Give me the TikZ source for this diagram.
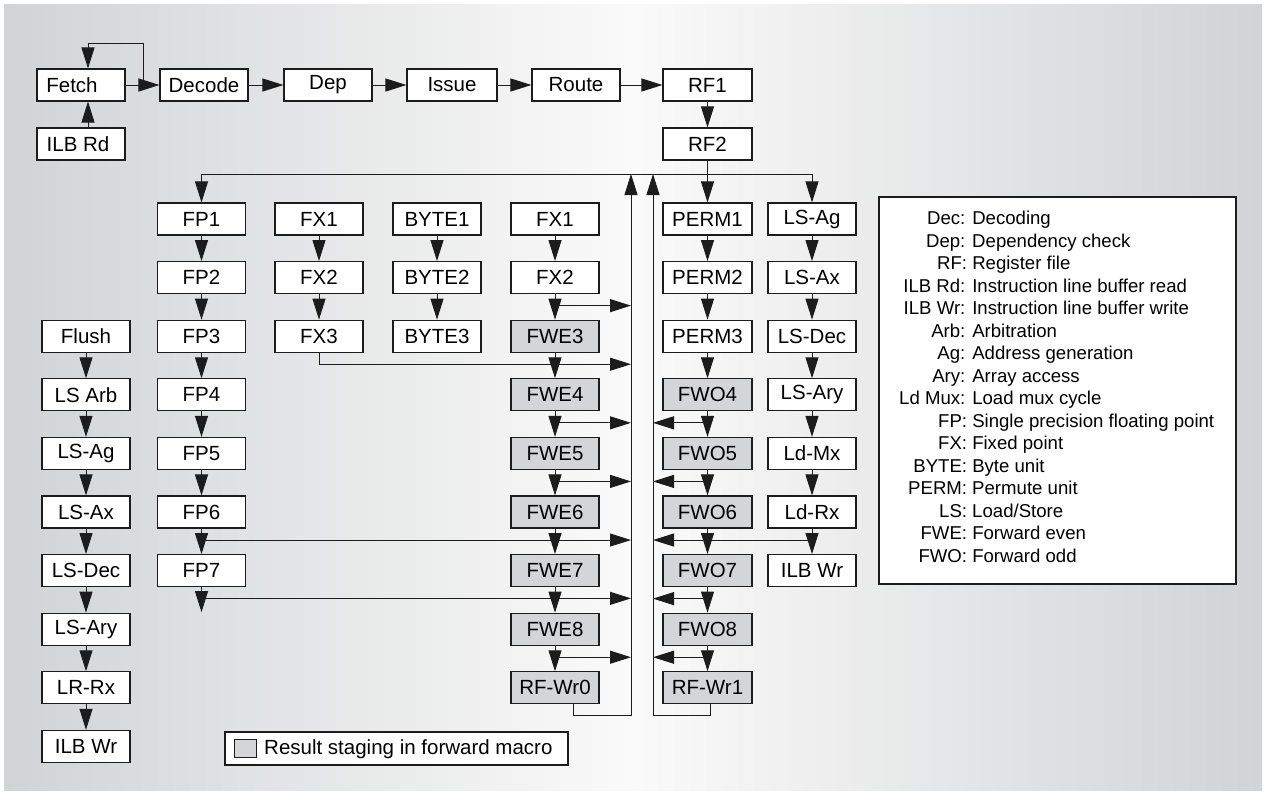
\documentclass[tikz,border=0pt]{standalone}
\usepackage{fontspec}
\setmainfont{Liberation Sans}
\usetikzlibrary{arrows.meta,calc}
\definecolor{bgside}{RGB}{210,211,213}
\definecolor{bgmid}{RGB}{250,250,250}
\definecolor{stagefill}{RGB}{212,213,215}
\definecolor{ink}{RGB}{28,28,28}
\newcommand{\boxfont}{\fontsize{20.5}{24}\selectfont}
\newcommand{\legfont}{\fontsize{18.6}{22.5}\selectfont}
\begin{document}
\begin{tikzpicture}[x=1pt,y=-1pt,
  pbox/.style={draw=ink, line width=1.1pt, fill=white, minimum width=88pt,
    minimum height=32pt, inner sep=0pt, font=\boxfont},
  gbox/.style={pbox, fill=stagefill},
  arr/.style={draw=ink, line width=1pt, -{Triangle[length=21pt,width=13pt]}},
  wire/.style={draw=ink, line width=1pt},
  frame/.style={draw=ink, line width=1.1pt, fill=white},
]
\useasboundingbox (0,0) rectangle (1264,801);
\shade[left color=bgside, right color=bgside, middle color=bgmid] (4,4) rectangle (1262,790);

% top pipeline
\node[pbox] (Fetch)  at (81,85)    {\hspace*{-18pt}Fetch};
\node[pbox] (Decode) at (204,85)   {Decode};
\node[pbox] (Dep)    at (328,85)   {Dep};
\node[pbox, minimum width=90pt] (Issue)  at (452,85)   {Issue};
\node[pbox] (Route)  at (576,85)   {Route};
\node[pbox, minimum width=89pt] (RF1)    at (707.5,85) {RF1};
\node[pbox, minimum width=89pt] (RF2)    at (707.5,144) {RF2};
\node[pbox] (ILBRd)  at (81,144)   {\hspace*{-6pt}ILB Rd};

% left LS column
\node[pbox] (Flush)  at (86,336.2) {Flush};
\node[pbox] (LSArb)  at (86,394.8) {LS Arb};
\node[pbox] (LSAgL)  at (86,453.4) {LS-Ag};
\node[pbox] (LSAxL)  at (86,512)   {LS-Ax};
\node[pbox] (LSDecL) at (86,570.6) {LS-Dec};
\node[pbox] (LSAryL) at (86,629.2) {LS-Ary};
\node[pbox] (LRRx)   at (86,687.8) {LR-Rx};
\node[pbox] (ILBWrL) at (86,746.4) {ILB Wr};

% FP column
\node[pbox] (FP1) at (201.5,219)   {FP1};
\node[pbox] (FP2) at (201.5,277.6) {FP2};
\node[pbox] (FP3) at (201.5,336.2) {FP3};
\node[pbox] (FP4) at (201.5,394.8) {FP4};
\node[pbox] (FP5) at (201.5,453.4) {FP5};
\node[pbox] (FP6) at (201.5,512)   {FP6};
\node[pbox] (FP7) at (201.5,570.6) {FP7};

% FX column
\node[pbox] (FXa1) at (319,219)   {FX1};
\node[pbox] (FXa2) at (319,277.6) {FX2};
\node[pbox] (FXa3) at (319,336.2) {FX3};

% BYTE column
\node[pbox] (BY1) at (437,219)   {BYTE1};
\node[pbox] (BY2) at (437,277.6) {BYTE2};
\node[pbox] (BY3) at (437,336.2) {BYTE3};

% FX / FWE column
\node[pbox] (FXb1) at (555,219)   {FX1};
\node[pbox] (FXb2) at (555,277.6) {FX2};
\node[gbox] (FWE3) at (555,336.2) {FWE3};
\node[gbox] (FWE4) at (555,394.8) {FWE4};
\node[gbox] (FWE5) at (555,453.4) {FWE5};
\node[gbox] (FWE6) at (555,512)   {FWE6};
\node[gbox] (FWE7) at (555,570.6) {FWE7};
\node[gbox] (FWE8) at (555,629.2) {FWE8};
\node[gbox] (RFWr0) at (555,687.8) {RF-Wr0};

% PERM / FWO column
\node[pbox, minimum width=89pt] (PERM1) at (707.5,219)   {PERM1};
\node[pbox, minimum width=89pt] (PERM2) at (707.5,277.6) {PERM2};
\node[pbox, minimum width=89pt] (PERM3) at (707.5,336.2) {PERM3};
\node[gbox, minimum width=89pt] (FWO4)  at (707.5,394.8) {FWO4};
\node[gbox, minimum width=89pt] (FWO5)  at (707.5,453.4) {FWO5};
\node[gbox, minimum width=89pt] (FWO6)  at (707.5,512)   {FWO6};
\node[gbox, minimum width=89pt] (FWO7)  at (707.5,570.6) {FWO7};
\node[gbox, minimum width=89pt] (FWO8)  at (707.5,629.2) {FWO8};
\node[gbox, minimum width=89pt] (RFWr1) at (707.5,687.8) {RF-Wr1};

% right LS column
\node[pbox] (LSAg)  at (812,219)   {LS-Ag};
\node[pbox] (LSAx)  at (812,277.6) {LS-Ax};
\node[pbox] (LSDec) at (812,336.2) {LS-Dec};
\node[pbox] (LSAry) at (812,394.8) {LS-Ary};
\node[pbox] (LdMx)  at (812,453.4) {Ld-Mx};
\node[pbox] (LdRx)  at (812,512)   {Ld-Rx};
\node[pbox] (ILBWr) at (812,570.6) {ILB Wr};

% top pipeline connectors
\coordinate (loopA) at (143,85);
\coordinate (loopB) at (88,43);
\draw[arr] (Fetch) -- (Decode);
\draw[arr] (loopA) |- (loopB) -- ([xshift=7pt]Fetch.north);
\draw[arr] ([xshift=7pt]ILBRd.north) -- ([xshift=7pt]Fetch.south);
\draw[arr] (Decode) -- (Dep);
\draw[arr] (Dep) -- (Issue);
\draw[arr] (Issue) -- (Route);
\draw[arr] (Route) -- (RF1);
\draw[arr] (RF1) -- (RF2);

% fork
\coordinate (fork) at (707.5,174);
\coordinate (busLtop) at (631,174);
\coordinate (busRtop) at (653,174);
\draw[arr] (RF2) -- (PERM1);
\draw[arr] (fork) -| (FP1.north);
\draw[arr] (fork) -| (LSAg.north);

% column chains
\foreach \a/\b in {Flush/LSArb, LSArb/LSAgL, LSAgL/LSAxL, LSAxL/LSDecL, LSDecL/LSAryL,
  LSAryL/LRRx, LRRx/ILBWrL, FP1/FP2, FP2/FP3, FP3/FP4, FP4/FP5, FP5/FP6, FP6/FP7,
  FXa1/FXa2, FXa2/FXa3, BY1/BY2, BY2/BY3, FXb1/FXb2, FXb2/FWE3, FWE3/FWE4, FWE4/FWE5,
  FWE5/FWE6, FWE6/FWE7, FWE7/FWE8, FWE8/RFWr0, PERM1/PERM2, PERM2/PERM3, PERM3/FWO4,
  FWO4/FWO5, FWO5/FWO6, FWO6/FWO7, FWO7/FWO8, FWO8/RFWr1, LSAg/LSAx, LSAx/LSDec,
  LSDec/LSAry, LSAry/LdMx, LdMx/LdRx, LdRx/ILBWr}
  \draw[arr] (\a) -- (\b);
\coordinate (fp7end) at ($(FP7.south)+(0,25)$);
\draw[arr] (FP7.south) -- (fp7end);

% feeds into the even bus
\foreach \a/\b in {FXb2/FWE3, FWE4/FWE5, FWE5/FWE6, FWE8/RFWr0, FP6/FP7}
  \draw[arr] let \p1=($(\a.south)!.45!(\b.north)$), \p2=(busLtop) in (\p1) -- (\x2,\y1);
\draw[arr] let \p1=($(FWE3.south)!.45!(FWE4.north)$), \p2=(busLtop) in
  (FXa3.south) |- (\x2,\y1);
\draw[arr] let \p1=($(FP7.south)+(0,11.2)$), \p2=(busLtop) in (\p1) -- (\x2,\y1);

% feeds into the odd bus
\foreach \a/\b in {FWO4/FWO5, FWO5/FWO6, FWO7/FWO8, FWO8/RFWr1, LdRx/ILBWr}
  \draw[arr] let \p1=($(\a.south)!.45!(\b.north)$), \p2=(busRtop) in (\p1) -- (\x2,\y1);

% buses back to the fork
\draw[arr] ([xshift=18pt]RFWr0.south) -- ++(0,11) -| (busLtop);
\draw[arr] ([xshift=3pt]RFWr1.south) -- ++(0,11) -| (busRtop);

% legend
\node[frame, minimum width=357pt, minimum height=387pt, inner sep=0pt] (legbox) at (1057.5,390.5) {};
\node[anchor=north west, inner sep=0pt, font=\legfont] (legtext) at (899,209) {%
\begin{tabular}{@{}r@{: }l@{}}
Dec & Decoding\\
Dep & Dependency check\\
RF & Register file\\
ILB Rd & Instruction line buffer read\\
ILB Wr & Instruction line buffer write\\
Arb & Arbitration\\
Ag & Address generation\\
Ary & Array access\\
Ld Mux & Load mux cycle\\
FP & Single precision floating point\\
FX & Fixed point\\
BYTE & Byte unit\\
PERM & Permute unit\\
LS & Load/Store\\
FWE & Forward even\\
FWO & Forward odd
\end{tabular}};

% staging key
\node[frame, minimum width=343pt, minimum height=33pt, inner sep=0pt] (keybox) at (396.5,748.5) {};
\node[draw=ink, line width=1pt, fill=stagefill, minimum width=22pt, minimum height=18pt, inner sep=0pt] (keysq) at (245,748) {};
\node[anchor=west, inner sep=0pt, font=\boxfont] (keytext) at (264,749) {Result staging in forward macro};
\end{tikzpicture}
\end{document}
